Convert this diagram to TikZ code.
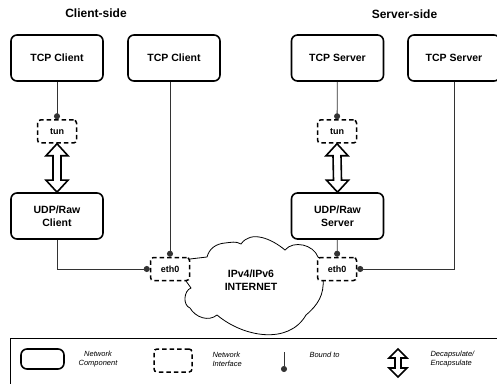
\documentclass[tikz,border=0pt]{standalone}
\usepackage{fontspec}
\setmainfont{Liberation Sans}
\usetikzlibrary{arrows.meta,calc}

\begin{document}
\begin{tikzpicture}[x=1pt,y=1pt,
  side/.style={font=\fontsize{12}{14}\selectfont\bfseries},
  comp/.style={draw,line width=1.6pt,rounded corners=6pt,minimum width=92pt,minimum height=46pt,
    align=center,font=\fontsize{10.5}{12.5}\selectfont\bfseries},
  iface/.style={draw,dash pattern=on 4.5pt off 3pt,line width=1.5pt,rounded corners=3pt,fill=white,
    minimum width=39pt,minimum height=23pt,font=\fontsize{9}{11}\selectfont\bfseries},
  bound/.style={draw=black!80,line width=0.8pt,-{Circle[length=6pt]}},
  % hollow two-headed arrow: half head width, head length, half shaft width
  encap/.style n args={3}{line width=1.6pt,fill=white,line join=miter,to path={
    let \p1=(\tikztostart),\p2=(\tikztotarget) in
    (\p1) -- (\x1+#1,\y1-#2) -- (\x1+#3,\y1-#2) -- (\x2+#3,\y2+#2) -- (\x2+#1,\y2+#2) -- (\p2)
    -- (\x2-#1,\y2+#2) -- (\x2-#3,\y2+#2) -- (\x1-#3,\y1-#2) -- (\x1-#1,\y1-#2) -- cycle}},
  legend/.style={font=\fontsize{7.5}{9}\selectfont\itshape,align=left}]
  \useasboundingbox (0,0) rectangle (497,383);
  \clip (0,0) rectangle (497,383);

  \node[side] (cside) at (96,370) {Client-side};
  \node[side] (sside) at (404.5,369) {Server-side};

  % applications and tunnel endpoints
  \node[comp] (tcpc1) at (57,325) {TCP Client};
  \node[comp] (tcpc2) at (174,325) {TCP Client};
  \node[comp] (tcps1) at (337.5,325) {TCP Server};
  \node[comp] (tcps2) at (454,325) {TCP Server};
  \node[comp] (udpc) at (57,167) {UDP/Raw\\Client};
  \node[comp] (udps) at (337.5,167) {UDP/Raw\\Server};

  % the internet cloud, its ends hidden under the eth0 boxes
  \draw[line width=0.8pt,fill=white] (186,120) -- (190,124) -- (207,126)
    to[out=75,in=185] (225,140) to[out=5,in=150] (241,139)
    to[out=55,in=140] (285,133)
    to[out=50,in=110] (318,126) -- (325,118) -- (323,104)
    to[out=-85,in=40] (306,68)
    to[out=-120,in=-40] (217,68)
    to[out=-140,in=-60] (190,75)
    to[out=160,in=200] (191,95) -- (186,102) -- cycle;
  \node[align=center,font=\fontsize{10.5}{13}\selectfont\bfseries] (inet) at (251,103) {IPv4/IPv6\\INTERNET};

  \node[iface] (tunc) at (57,251.5) {tun};
  \node[iface] (tuns) at (337,251.5) {tun};
  \node[iface] (ethc) at (170,114) {eth0};
  \node[iface] (eths) at (337,114) {eth0};

  \draw[bound] (tcpc1) -- (tunc);
  \draw[bound] (tcps1) -- (tuns);
  \draw[bound] (ethc.north |- tcpc2.south) -- (ethc.north);
  \draw[bound] (udpc.south) |- (ethc.west);
  \draw[bound] (udps) -- (eths);
  \draw[bound] (tcps2.south) |- (eths.east);
  \draw[encap={11}{12}{4}] (tunc.south) to (udpc.north);
  \draw[encap={11}{12}{4}] (tuns.south) to (udps.north);

  % legend
  \draw[line width=0.8pt] (10,-10) rectangle (510,45);
  \node[comp,minimum width=43pt,minimum height=20pt] (lcomp) at (42.5,24) {};
  \node[legend,align=center] (lcompt) at (98,24) {Network\\Component};
  \node[iface,minimum width=38pt,minimum height=23pt] (liface) at (173,22.5) {};
  \node[legend,anchor=west] (lifacet) at (209,24) {Network\\Interface};
  \coordinate (lbtop) at (284,31);
  \coordinate (lbbot) at (284,11);
  \draw[bound] (lbtop) -- (lbbot);
  \node[legend,anchor=west] (lboundt) at (306,28) {Bound to};
  \coordinate (letop) at (398,34);
  \coordinate (lebot) at (398,6);
  \draw[encap={9}{9}{3}] (letop) to (lebot);
  \node[legend,anchor=west] (lencapt) at (427,24) {Decapsulate/\\Encapsulate};
\end{tikzpicture}
\end{document}
